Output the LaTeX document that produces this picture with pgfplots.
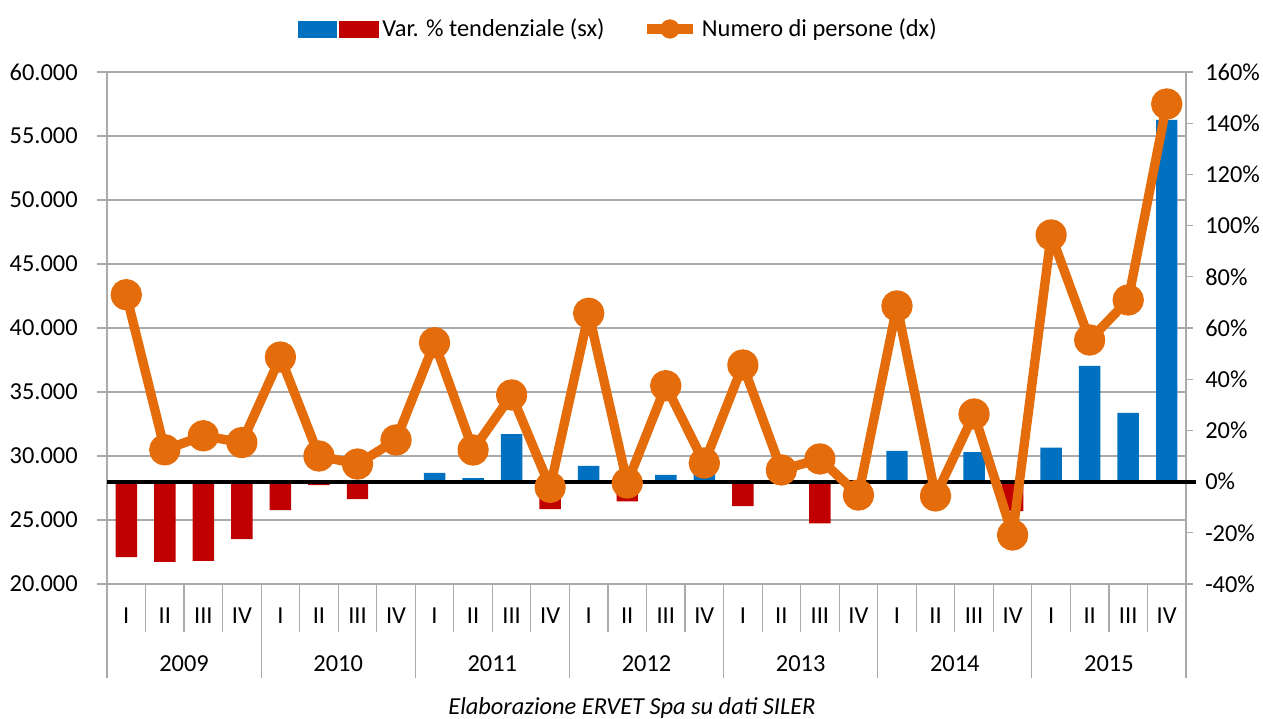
\documentclass[border=0pt]{standalone}
\usepackage{pgfplots}
\pgfplotsset{compat=1.18}
\usepackage{fontspec}
\setmainfont{Carlito}
\definecolor{barblue}{RGB}{0,112,192}
\definecolor{barred}{RGB}{192,0,0}
\definecolor{lineor}{RGB}{228,108,10}
\definecolor{gridg}{RGB}{170,170,170}
\begin{document}
\fontsize{18.3}{22}\selectfont
\begin{tikzpicture}[x=1pt,y=1pt]
\path[use as bounding box] (0,0) rectangle (947.25,538.5);
\pgfplotsset{
  common/.style={
    at={(80.25pt,100.5pt)}, anchor=south west,
    scale only axis, width=809.25pt, height=384pt,
    xmin=0, xmax=28,
    font=\fontsize{18.3}{22}\selectfont,
    /pgf/number format/assume math mode=true,
    axis line style={gridg, line width=0.9pt},
    tick style={gridg, line width=0.9pt},
    tick align=outside,
    clip=false,
  }
}
% axis 0: left scale, grid
\begin{axis}[common,
  ymin=20000, ymax=60000,
  ytick={20000,25000,...,60000},
  scaled y ticks=false,
  ymajorgrids, grid style={gridg, line width=0.9pt},
  axis y line*=left, axis x line=none, xtick=\empty,
  major tick length=7.5pt,
  yticklabel style={anchor=east, inner sep=0pt, xshift=-14.25pt},
  /pgf/number format/1000 sep={.},
]
\end{axis}
% axis 1: bars, right scale
\begin{axis}[common,
  ymin=-40, ymax=160,
  ytick={-40,-20,...,160},
  yticklabel={\pgfmathprintnumber{\tick}\%},
  axis y line*=right, axis x line=none, xtick=\empty,
  major tick length=5.25pt,
  yticklabel style={anchor=west, inner sep=0pt, xshift=9pt},
  legend style={at={(0.177,1.084)}, anchor=west, draw=none, fill=none,
    inner sep=0pt, legend columns=2,
    font=\fontsize{18.3}{22}\selectfont,
    nodes={inner sep=0pt},
    /tikz/every odd column/.append style={column sep=3pt},
    /tikz/every even column/.append style={column sep=28pt}},
]
\addplot[ybar, bar width=16.1pt, bar shift=0pt, fill=barblue, draw=none, forget plot]
  coordinates {(7.5,0) (8.5,3.4) (9.5,1.4) (10.5,18.5) (12.5,6.1) (14.5,2.6) (15.5,6.5)
   (17.5,4.0) (20.5,12.0) (22.5,11.5) (24.5,13.3) (25.5,45.2) (26.5,26.8) (27.5,141.3)};
\addplot[ybar, bar width=16.1pt, bar shift=0pt, fill=barred, draw=none, forget plot]
  coordinates {(0.5,-29.5) (1.5,-31.4) (2.5,-31.0) (3.5,-22.5) (4.5,-11.1) (5.5,-1.4)
   (6.5,-6.8) (11.5,-10.8) (13.5,-7.7) (16.5,-9.6) (18.5,-16.3) (19.5,-7.7)
   (21.5,-5.0) (23.5,-11.5)};
\addplot[black, line width=3pt, forget plot] coordinates {(0,0) (28.25,0)};
\addlegendimage{legend image code/.code={
  \fill[barblue] (0pt,-6pt) rectangle (28.5pt,6pt);
  \fill[barred] (30.75pt,-6pt) rectangle (59.75pt,6pt);}}
\addlegendentry{Var. \% tendenziale (sx)}
\addlegendimage{legend image code/.code={
  \draw[lineor, line width=7pt] (0pt,0pt) -- (35pt,0pt);
  \fill[lineor] (17.5pt,0pt) circle (7pt);}}
\addlegendentry{Numero di persone (dx)}
\end{axis}
% axis 3: quarter labels and separators
\begin{axis}[common,
  ymin=0, ymax=1,
  axis y line=none, axis x line*=bottom,
  xtick={0,...,28},
  x tick label as interval,
  xticklabels={I,II,III,IV,I,II,III,IV,I,II,III,IV,I,II,III,IV,I,II,III,IV,I,II,III,IV,I,II,III,IV},
  major tick length=36pt,
  xticklabel style={anchor=base, inner sep=0pt, yshift=6.75pt},
]
\end{axis}
% axis 4: years
\begin{axis}[common,
  ymin=0, ymax=1,
  axis y line=none, axis x line*=bottom,
  xtick={0,4,...,28},
  x tick label as interval,
  xticklabels={2009,2010,2011,2012,2013,2014,2015},
  major tick length=70.5pt,
  xticklabel style={anchor=base, inner sep=0pt, yshift=5.25pt},
]
\end{axis}
% axis 2: line, left scale
\begin{axis}[common,
  ymin=20000, ymax=60000, hide axis,
]
\addplot[lineor, line width=7pt, line join=round, mark=*, mark size=8.25pt,
  mark options={draw=none, fill=lineor}]
  coordinates {(0.5,42600) (1.5,30480) (2.5,31580) (3.5,31050) (4.5,37730) (5.5,30000)
   (6.5,29370) (7.5,31250) (8.5,38850) (9.5,30470) (10.5,34770) (11.5,27550)
   (12.5,41150) (13.5,27890) (14.5,35490) (15.5,29450) (16.5,37110) (17.5,28910)
   (18.5,29770) (19.5,26950) (20.5,41720) (21.5,26880) (22.5,33280) (23.5,23830)
   (24.5,47270) (25.5,39060) (26.5,42190) (27.5,57500)};
\end{axis}
\node[anchor=base, font=\fontsize{18.3}{22}\selectfont\itshape] at (474,3) {Elaborazione ERVET Spa su dati SILER};
\end{tikzpicture}
\end{document}
